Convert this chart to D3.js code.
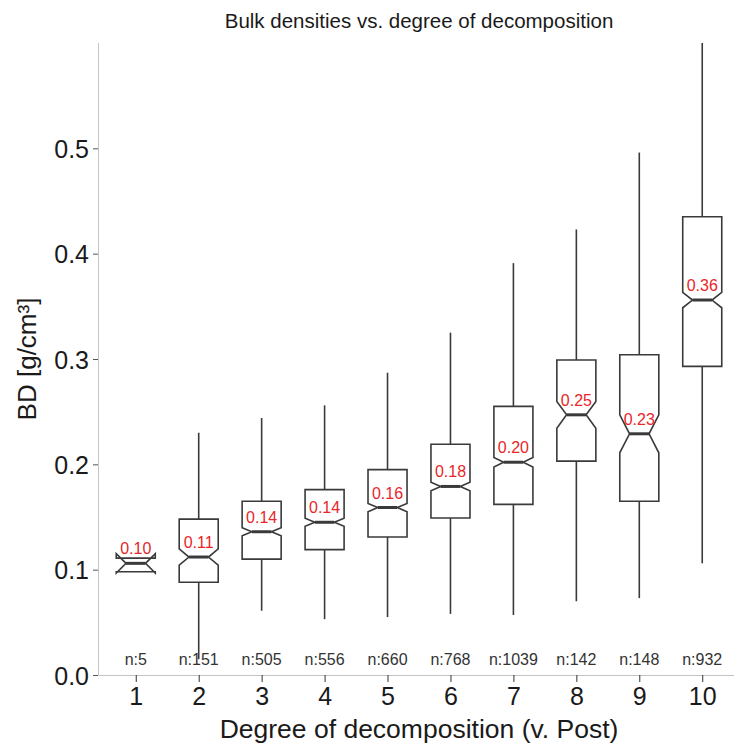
<!DOCTYPE html>
<html>
<head>
<meta charset="utf-8">
<script src="https://cdn.jsdelivr.net/npm/d3@7"></script>
<style>
  body { margin: 0; background: #fff; }
  svg { display: block; font-family: "Liberation Sans", Arial, sans-serif; }
</style>
</head>
<body>
<svg id="plot"></svg>
<script>
// degree of decomposition (v. Post)
var categories = ["1", "2", "3", "4", "5", "6", "7", "8", "9", "10"];
var counts = [5, 151, 505, 556, 660, 768, 1039, 142, 148, 932];
// box statistics, BD in g/cm3
var whiskerLow  = [0.098, 0.015, 0.061, 0.053, 0.055, 0.058, 0.057, 0.070, 0.073, 0.106];
var q1          = [0.098, 0.088, 0.110, 0.119, 0.131, 0.149, 0.162, 0.203, 0.165, 0.293];
var medians     = [0.106, 0.112, 0.136, 0.145, 0.159, 0.179, 0.202, 0.247, 0.229, 0.356];
var q3          = [0.111, 0.148, 0.165, 0.176, 0.195, 0.219, 0.255, 0.299, 0.304, 0.435];
var whiskerHigh = [0.111, 0.230, 0.244, 0.256, 0.287, 0.325, 0.391, 0.423, 0.496, 0.600];
var medianLabels = ["0.10", "0.11", "0.14", "0.14", "0.16", "0.18", "0.20", "0.25", "0.23", "0.36"];
var yTicks = [0, 0.1, 0.2, 0.3, 0.4, 0.5];

var W = 734, H = 745;
var svg = d3.select("#plot").attr("width", W).attr("height", H);

var margin = {top: 43, left: 98, bottom: 70};
var plotRight = 740;

var x = d3.scalePoint()
  .domain(categories)
  .range([margin.left, plotRight])
  .padding(0.6);

var y = d3.scaleLinear()
  .domain([0, 0.6])
  .range([675, margin.top]);

var boxes = categories.map(function(c, i) {
  var iqr = q3[i] - q1[i];
  var notch = 1.58 * iqr / Math.sqrt(counts[i]);
  return {
    cat: c, n: counts[i], lo: whiskerLow[i], q1: q1[i], med: medians[i],
    q3: q3[i], hi: whiskerHigh[i], label: medianLabels[i],
    notchLo: medians[i] - notch, notchHi: medians[i] + notch
  };
});

var boxW = x.step() * 0.62;
var indent = boxW / 4;
var line = d3.line();
var boxColor = "#3a3a3a";

// y axis
var yAxis = svg.append("g")
  .attr("transform", "translate(" + margin.left + ",0)")
  .call(d3.axisLeft(y).tickValues(yTicks).tickFormat(d3.format(".1f")).tickSize(5).tickSizeOuter(0).tickPadding(4));
yAxis.select(".domain").attr("stroke", "#c4c4c4").attr("d", "M0.5," + y(0) + "V" + y(0.6));
yAxis.selectAll(".tick line").attr("stroke", "#555");
yAxis.selectAll(".tick text").attr("fill", "#1a1a1a").style("font-size", "25px").attr("dy", "0.36em");

// x axis
var xAxis = svg.append("g")
  .attr("transform", "translate(0," + y(0) + ")")
  .call(d3.axisBottom(x).tickSize(7).tickSizeOuter(0).tickPadding(5));
xAxis.select(".domain").attr("stroke", "#c4c4c4");
xAxis.selectAll(".tick line").attr("stroke", "#333");
xAxis.selectAll(".tick text").attr("fill", "#1a1a1a").style("font-size", "25px");

var g = svg.append("g").selectAll("g").data(boxes).enter().append("g");

// whiskers
g.append("line")
  .attr("x1", function(d) { return x(d.cat); })
  .attr("x2", function(d) { return x(d.cat); })
  .attr("y1", function(d) { return y(d.q3); })
  .attr("y2", function(d) { return y(d.hi); })
  .attr("stroke", boxColor).attr("stroke-width", 1.6);
g.append("line")
  .attr("x1", function(d) { return x(d.cat); })
  .attr("x2", function(d) { return x(d.cat); })
  .attr("y1", function(d) { return y(d.q1); })
  .attr("y2", function(d) { return y(d.lo); })
  .attr("stroke", boxColor).attr("stroke-width", 1.6);

// notched boxes
g.append("path")
  .attr("d", function(d) {
    var x0 = x(d.cat) - boxW / 2, x1 = x(d.cat) + boxW / 2;
    return line([
      [x0, y(d.q3)], [x0, y(d.notchHi)], [x0 + indent, y(d.med)], [x0, y(d.notchLo)], [x0, y(d.q1)],
      [x1, y(d.q1)], [x1, y(d.notchLo)], [x1 - indent, y(d.med)], [x1, y(d.notchHi)], [x1, y(d.q3)],
      [x0, y(d.q3)]
    ]) + "Z";
  })
  .attr("fill", "#fff").attr("stroke", boxColor).attr("stroke-width", 1.6)
  .attr("stroke-linejoin", "miter");

// medians
g.append("line")
  .attr("x1", function(d) { return x(d.cat) - boxW / 2 + indent; })
  .attr("x2", function(d) { return x(d.cat) + boxW / 2 - indent; })
  .attr("y1", function(d) { return y(d.med); })
  .attr("y2", function(d) { return y(d.med); })
  .attr("stroke", boxColor).attr("stroke-width", 3);

// median labels
g.append("text")
  .attr("x", function(d) { return x(d.cat); })
  .attr("y", function(d) { return y(d.med) - 9; })
  .attr("text-anchor", "middle")
  .attr("fill", "#e8262a")
  .style("font-size", "16px")
  .text(function(d) { return d.label; });

// counts
g.append("text")
  .attr("x", function(d) { return x(d.cat); })
  .attr("y", 665)
  .attr("text-anchor", "middle")
  .attr("fill", "#333")
  .style("font-size", "16px")
  .text(function(d) { return "n:" + d.n; });

// titles
svg.append("text")
  .attr("x", (margin.left + plotRight) / 2)
  .attr("y", 28)
  .attr("text-anchor", "middle")
  .attr("fill", "#1a1a1a")
  .style("font-size", "20.5px")
  .text("Bulk densities vs. degree of decomposition");

svg.append("text")
  .attr("x", (margin.left + plotRight) / 2)
  .attr("y", 738)
  .attr("text-anchor", "middle")
  .attr("fill", "#1a1a1a")
  .style("font-size", "26.5px")
  .text("Degree of decomposition (v. Post)");

svg.append("text")
  .attr("transform", "translate(36," + (y(0) + y(0.6)) / 2 + ") rotate(-90)")
  .attr("text-anchor", "middle")
  .attr("fill", "#1a1a1a")
  .style("font-size", "26px")
  .text("BD [g/cm³]");
</script>
</body>
</html>
